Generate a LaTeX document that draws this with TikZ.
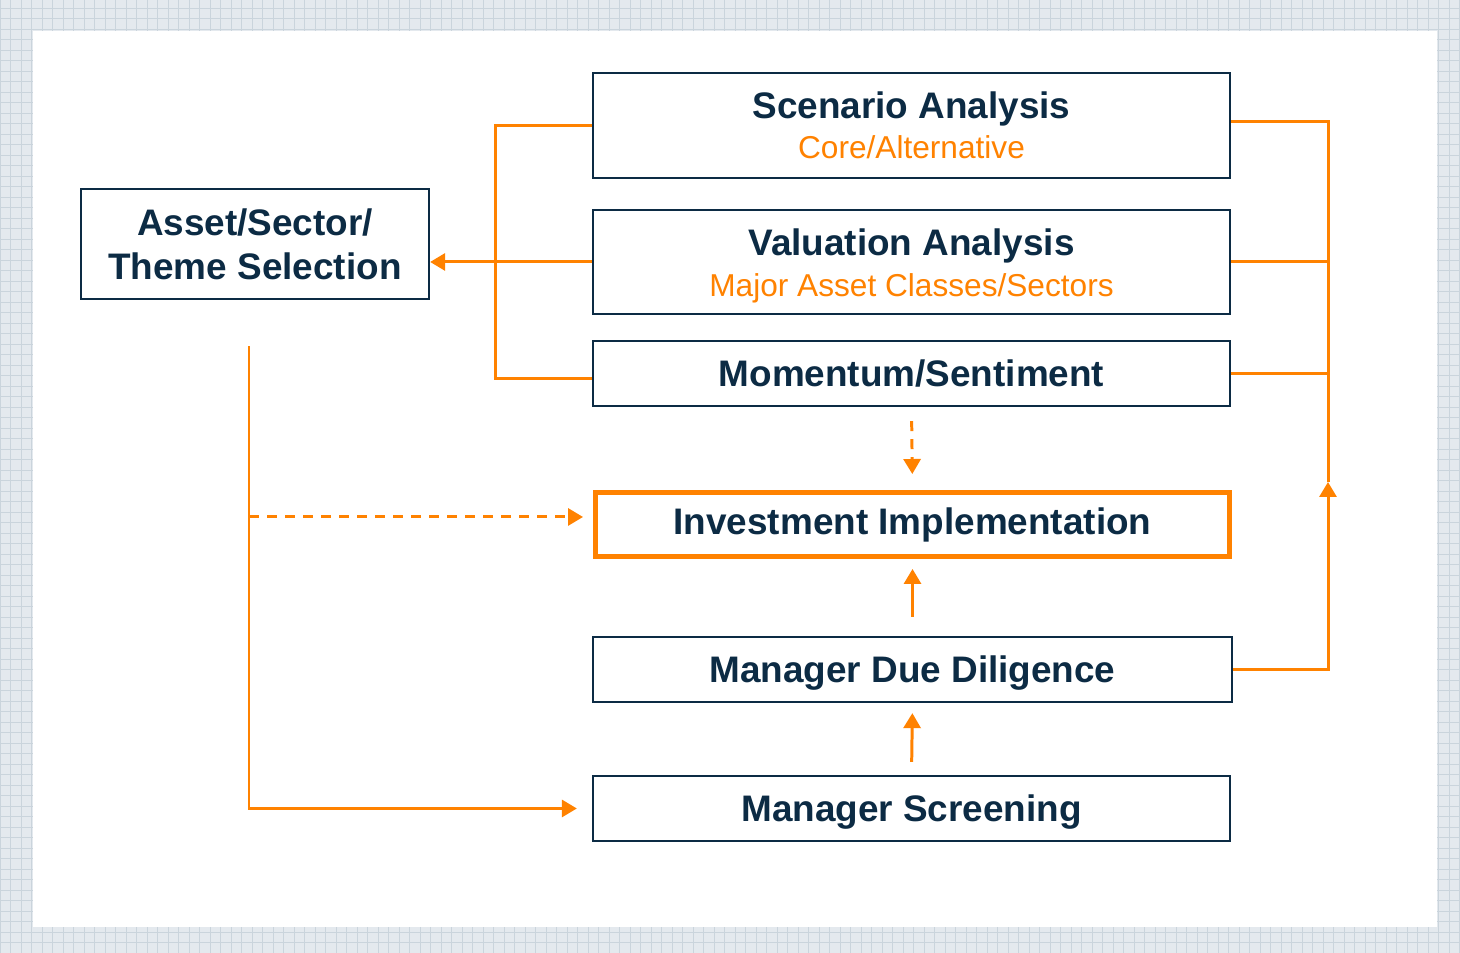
\documentclass[tikz,border=0pt]{standalone}
\usepackage{fontspec}
\setmainfont{Liberation Sans}
\usetikzlibrary{arrows.meta,positioning}
\definecolor{navy}{HTML}{0C2B44}
\definecolor{amber}{HTML}{FF8200}
\definecolor{paper}{HTML}{E4E9EE}
\definecolor{paperline}{HTML}{CAD4DC}
\newcommand\stagenote[1]{{\fontsize{18}{22}\selectfont\mdseries\color{amber}#1}}
% lower a line of text without changing the node size
\newcommand\sink[1]{\raisebox{-0.08cm}[\height][\depth]{#1}}

\begin{document}
\begin{tikzpicture}[
  >={Triangle[length=0.3cm,width=0.34cm]},
  stage/.style={draw=navy, line width=1.3pt, fill=white, inner sep=0pt, minimum width=12.74cm, minimum height=1.3cm, align=center, text=navy, font=\fontsize{21}{23}\selectfont\bfseries},
  focus/.style={stage, draw=amber, line width=2.8pt},
  link/.style={color=amber, line width=1.7pt},
  arr/.style={link, ->},
  darr/.style={arr, dash pattern=on 0.2cm off 0.16cm},
]

% framed sheet
\useasboundingbox (0,0) rectangle (29.2,19.06);
\fill[paper] (0,0) rectangle (29.2,19.06);
\draw[paperline, line width=0.5pt, step=0.21] (0,0) grid (29.2,19.06);
\fill[white] (0.66,0.52) rectangle (28.74,18.44);

% analysis blocks
\node[stage, minimum height=2.1cm] (scen) at (18.23,16.55) {Scenario Analysis\\\stagenote{Core/Alternative}};
\node[stage, minimum height=2.08cm] (valu) at (18.23,13.82) {\sink{Valuation Analysis}\\\sink{\stagenote{Major Asset Classes/Sectors}}};
\node[stage] (mom) at (18.23,11.59) {Momentum/Sentiment};
\node[focus, minimum width=12.68cm, minimum height=1.28cm] (impl) at (18.25,8.57) {Investment Implementation};
\node[stage, minimum width=12.78cm] (mdd) at (18.25,5.67) {\sink{Manager Due Diligence}};
\node[stage] (scr) at (18.23,2.89) {\sink{Manager Screening}};
\node[stage, minimum width=6.96cm, minimum height=2.2cm, font=\fontsize{21}{25}\selectfont\bfseries] (asset) at (5.10,14.18) {Asset/Sector/\\Theme Selection};

\coordinate (rtip) at (26.56,9.42);
\coordinate (drop) at ([xshift=-0.12cm,yshift=-0.92cm]asset.south);

% left bracket into selection
\draw[link] (scen.west) -- ++(-1.92,0) |- ([yshift=-0.1cm]mom.west);
\draw[arr] (valu.west) -- (valu.west -| asset.east);

% right bracket
\draw[link] ([yshift=0.08cm]scen.east) -| (rtip);
\draw[link] (valu.east) -- (valu.east -| rtip);
\draw[link] (mom.east) -- (mom.east -| rtip);
\draw[arr] (mdd.east) -| (rtip);

% selection feeds screening and implementation
\draw[arr, shorten >=0.3cm] (drop) |- (scr.west);
\draw[darr, shorten >=0.2cm] ([yshift=0.15cm]drop |- impl.west) -- ([yshift=0.15cm]impl.west);

% central column
\draw[darr, shorten <=0.28cm, shorten >=0.32cm] (mom.south) -- (impl.north);
\draw[arr, shorten <=0.38cm, shorten >=0.2cm] (mdd.north) -- (impl.south);
\draw[arr, shorten <=0.26cm, shorten >=0.2cm] (scr.north) -- (mdd.south);

\end{tikzpicture}
\end{document}
